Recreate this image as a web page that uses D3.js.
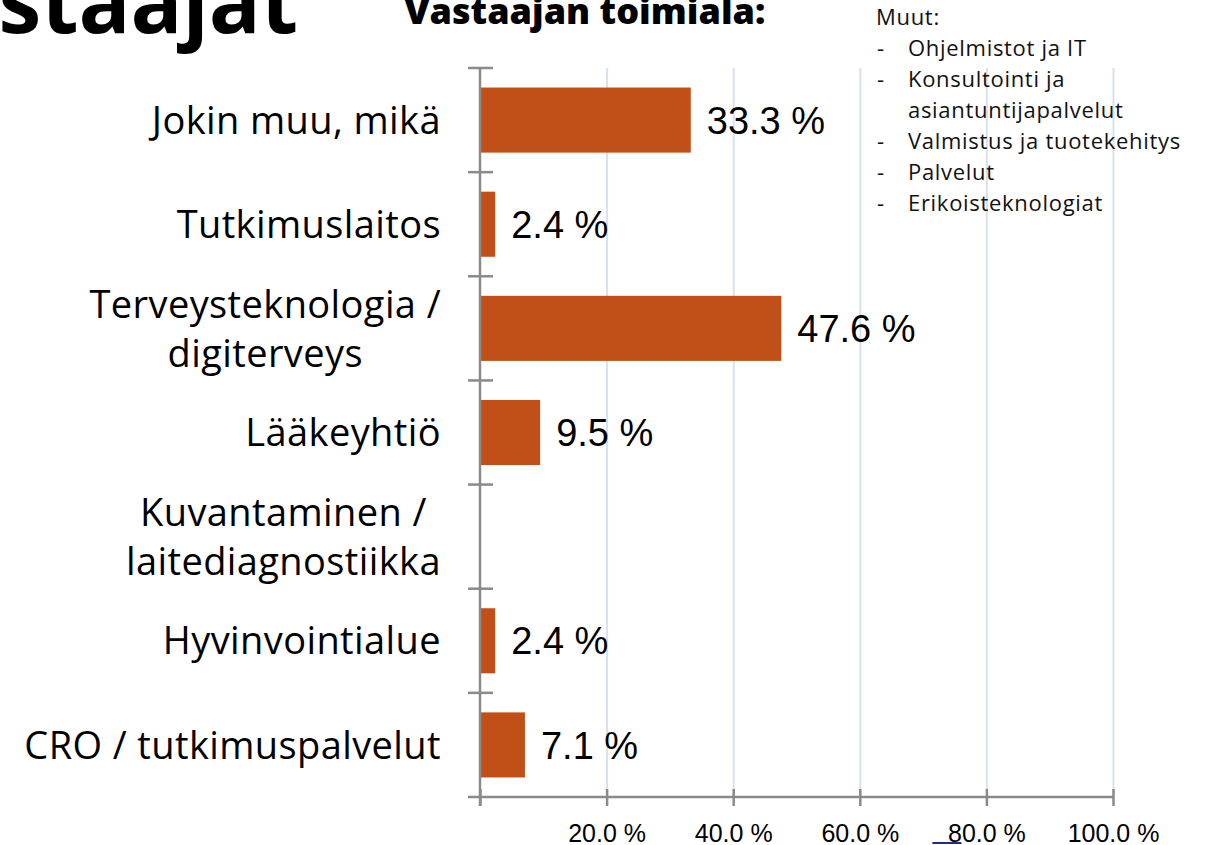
<!DOCTYPE html>
<html>
<head>
<meta charset="utf-8">
<script src="https://cdn.jsdelivr.net/npm/d3@7"></script>
<style>
  body { margin: 0; background: #fff; }
  svg { display: block; }
</style>
</head>
<body>
<svg id="chart" width="1205" height="845"></svg>
<script>
// data
const categories = [
    'Jokin muu, mikä',
    'Tutkimuslaitos',
    'Terveysteknologia /\ndigiterveys',
    'Lääkeyhtiö',
    'Kuvantaminen /\nlaitediagnostiikka',
    'Hyvinvointialue',
    'CRO / tutkimuspalvelut'
];
const shares = [0.333, 0.024, 0.476, 0.095, 0, 0.024, 0.071];
const xTicks = [0, 0.2, 0.4, 0.6, 0.8, 1.0];
const otherItems = [
    'Ohjelmistot ja IT',
    'Konsultointi ja\nasiantuntijapalvelut',
    'Valmistus ja tuotekehitys',
    'Palvelut',
    'Erikoisteknologiat'
];

const svg = d3.select('#chart');
const AXIS = '#8a8a8a';
const GRID = '#d8e1eb';
const BAR = '#c05018';

const x = d3.scaleLinear()
    .domain([0, 1])
    .range([480, 1113]);

const y = d3.scaleBand()
    .domain(categories)
    .range([68, 797])
    .paddingInner(0.375)
    .paddingOuter(0.1875);

const pct = d => d === 0 ? '' : d3.format('.1f')(d * 100) + ' %';

// gridlines
const grid = svg.append('g')
    .attr('transform', 'translate(0,797)')
    .call(d3.axisBottom(x).tickValues(xTicks.slice(1)).tickSize(-(797 - 68)).tickFormat(''));
grid.select('.domain').remove();
grid.selectAll('.tick line').attr('stroke', GRID).attr('stroke-width', 2);

// "Muut" note sits on top of the grid
const note = svg.append('g')
    .attr('font-family', '"Open Sans", sans-serif')
    .attr('font-size', 22)
    .attr('letter-spacing', 0.7)
    .attr('fill', '#111');
note.append('text').attr('x', 876).attr('y', 25).text('Muut:');
let line = 1;
otherItems.forEach(item => {
    const parts = item.split('\n');
    note.append('text').attr('x', 877).attr('y', 25 + line * 31).text('-');
    parts.forEach(p => {
        note.append('text').attr('x', 908).attr('y', 25 + line * 31).text(p);
        line++;
    });
});

// bars
svg.append('g')
    .selectAll('rect')
    .data(shares)
    .join('rect')
    .attr('x', x(0))
    .attr('y', (d, i) => y(categories[i]))
    .attr('width', d => x(d) - x(0))
    .attr('height', y.bandwidth())
    .attr('fill', BAR);

// value labels
svg.append('g')
    .attr('font-family', '"Liberation Sans", Arial, sans-serif')
    .attr('font-size', 38)
    .attr('fill', '#000')
    .selectAll('text')
    .data(shares)
    .join('text')
    .attr('x', d => x(d) + 16)
    .attr('y', (d, i) => y(categories[i]) + y.bandwidth() / 2)
    .attr('dy', '0.36em')
    .text(pct);

// x axis
const xAxis = svg.append('g')
    .attr('transform', 'translate(0,797)')
    .call(d3.axisBottom(x).tickValues(xTicks).tickSize(9).tickFormat(pct));
xAxis.select('.domain')
    .attr('d', `M468,0H${x(1)}`)
    .attr('stroke', AXIS)
    .attr('stroke-width', 2.5);
xAxis.selectAll('.tick line')
    .attr('y1', -8)
    .attr('stroke', AXIS)
    .attr('stroke-width', 2.5);
xAxis.selectAll('.tick text')
    .attr('y', 45)
    .attr('dy', 0)
    .attr('fill', '#000')
    .attr('font-family', '"Liberation Sans", Arial, sans-serif')
    .attr('font-size', 25);

// stray underline under 80 %
svg.append('line')
    .attr('x1', x(0.8) - 54).attr('x2', x(0.8) - 25)
    .attr('y1', 843).attr('y2', 843)
    .attr('stroke', '#1f2f7a').attr('stroke-width', 2);

// y axis with ticks on the band edges
const yAx = svg.append('g');
yAx.append('line')
    .attr('x1', x(0)).attr('x2', x(0))
    .attr('y1', y.range()[0]).attr('y2', 806)
    .attr('stroke', AXIS).attr('stroke-width', 2.5);
const edges = d3.range(categories.length + 1).map(i => y.range()[0] + i * y.step());
yAx.selectAll('.edge')
    .data(edges.slice(0, -1))
    .join('line')
    .attr('class', 'edge')
    .attr('x1', 468).attr('x2', 493)
    .attr('y1', d => d).attr('y2', d => d)
    .attr('stroke', AXIS).attr('stroke-width', 2.5);

// category labels, wrapped lines centred as a block ending at x=440
const catG = svg.append('g')
    .attr('font-family', '"Open Sans", sans-serif')
    .attr('font-size', 38)
    .attr('letter-spacing', 0.4)
    .attr('fill', '#000');
categories.forEach(c => {
    const parts = c.split('\n');
    const cy = y(c) + y.bandwidth() / 2;
    const lh = 49;
    const g = catG.append('g');
    const texts = parts.map((p, k) => g.append('text')
        .attr('y', cy + (k - (parts.length - 1) / 2) * lh)
        .attr('dy', '0.36em')
        .text(p));
    const widths = texts.map(t => t.node().getComputedTextLength());
    const w = d3.max(widths);
    texts.forEach(t => t.attr('x', 441 - w / 2).attr('text-anchor', 'middle'));
});

// titles cut by the slide edge
svg.append('text')
    .attr('x', 298).attr('y', 33)
    .attr('text-anchor', 'end')
    .attr('font-family', '"Open Sans", sans-serif')
    .attr('font-weight', 700)
    .attr('font-size', 86)
    .text('Vastaajat');
svg.append('text')
    .attr('x', 585).attr('y', 24)
    .attr('text-anchor', 'middle')
    .attr('font-family', '"Open Sans", sans-serif')
    .attr('font-weight', 800)
    .attr('font-size', 36)
    .text('Vastaajan toimiala:');
</script>
</body>
</html>
